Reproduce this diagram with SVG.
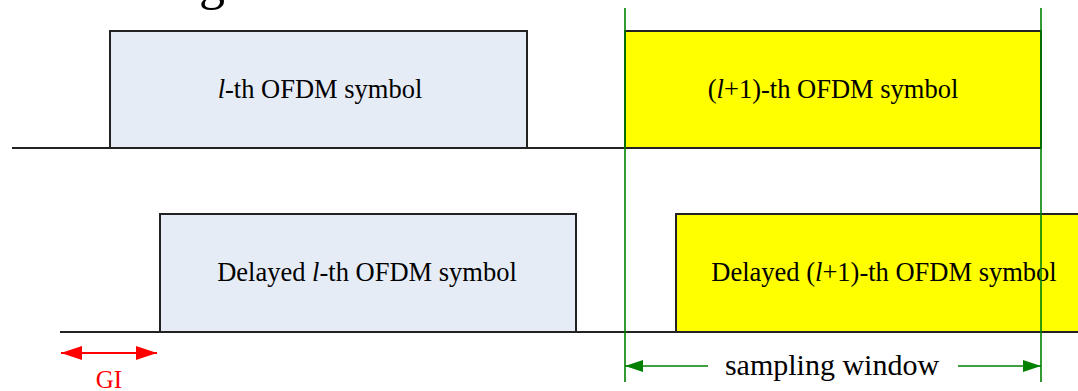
<svg xmlns="http://www.w3.org/2000/svg" width="1078" height="391" viewBox="0 0 1078 391">
<style>
.sym1{fill:#E6ECF6;stroke:#222;stroke-width:2}
.sym2{fill:#FFFF00;stroke:#222;stroke-width:2}
.base{stroke:#222;stroke-width:2;fill:none}
.win{stroke:#008000;stroke-width:1.6;fill:none}
</style>
<defs>
<marker id="ga" viewBox="0 0 18 12" refX="18" refY="6" markerWidth="18" markerHeight="12" markerUnits="userSpaceOnUse" orient="auto-start-reverse">
<path d="M0,0 L18,6 L0,12 Z" fill="#008000"/>
</marker>
<marker id="ra" viewBox="0 0 21 14" refX="21" refY="7" markerWidth="21" markerHeight="14" markerUnits="userSpaceOnUse" orient="auto-start-reverse">
<path d="M0,0 L21,7 L0,14 Z" fill="#FF0000"/>
</marker>
</defs>
<text x="199" y="-1" font-family="Liberation Serif, serif" font-size="52" fill="#000">g</text>
<g id="sym-l">
<rect class="sym1" x="110" y="31" width="417" height="117"/>
<text x="320" y="98" font-family="Liberation Serif, serif" font-size="26.5" text-anchor="middle" fill="#000"><tspan font-style="italic">l</tspan>-th OFDM symbol</text>
</g>
<g id="sym-l1">
<rect class="sym2" x="625" y="31" width="416" height="117"/>
<text x="833" y="98" font-family="Liberation Serif, serif" font-size="26.5" text-anchor="middle" fill="#000">(<tspan font-style="italic">l</tspan>+1)-th OFDM symbol</text>
</g>
<g id="del-l">
<rect class="sym1" x="160" y="214" width="416" height="118"/>
<text x="367" y="281" font-family="Liberation Serif, serif" font-size="26.5" text-anchor="middle" fill="#000">Delayed <tspan font-style="italic">l</tspan>-th OFDM symbol</text>
</g>
<g id="del-l1">
<rect class="sym2" x="676" y="214" width="416" height="118"/>
<text x="884" y="281" font-family="Liberation Serif, serif" font-size="26.5" text-anchor="middle" fill="#000">Delayed (<tspan font-style="italic">l</tspan>+1)-th OFDM symbol</text>
</g>
<g id="connectors">
<path class="base" d="M12,148 H1041"/>
<path class="base" d="M60,332 H1078"/>
<path class="win" d="M625,8 V382"/>
<path class="win" d="M1041,8 V382"/>
<path class="win" d="M708,366 H625" marker-end="url(#ga)"/>
<path class="win" d="M958,366 H1041" marker-end="url(#ga)"/>
<path d="M61,353 H157" stroke="#FF0000" stroke-width="2" marker-start="url(#ra)" marker-end="url(#ra)"/>
</g>
<g id="labels">
<text x="832" y="375" font-family="Liberation Serif, serif" font-size="30" text-anchor="middle" fill="#000">sampling window</text>
<text x="109" y="388" font-family="Liberation Serif, serif" font-size="25" text-anchor="middle" fill="#FF0000">GI</text>
</g>
</svg>
